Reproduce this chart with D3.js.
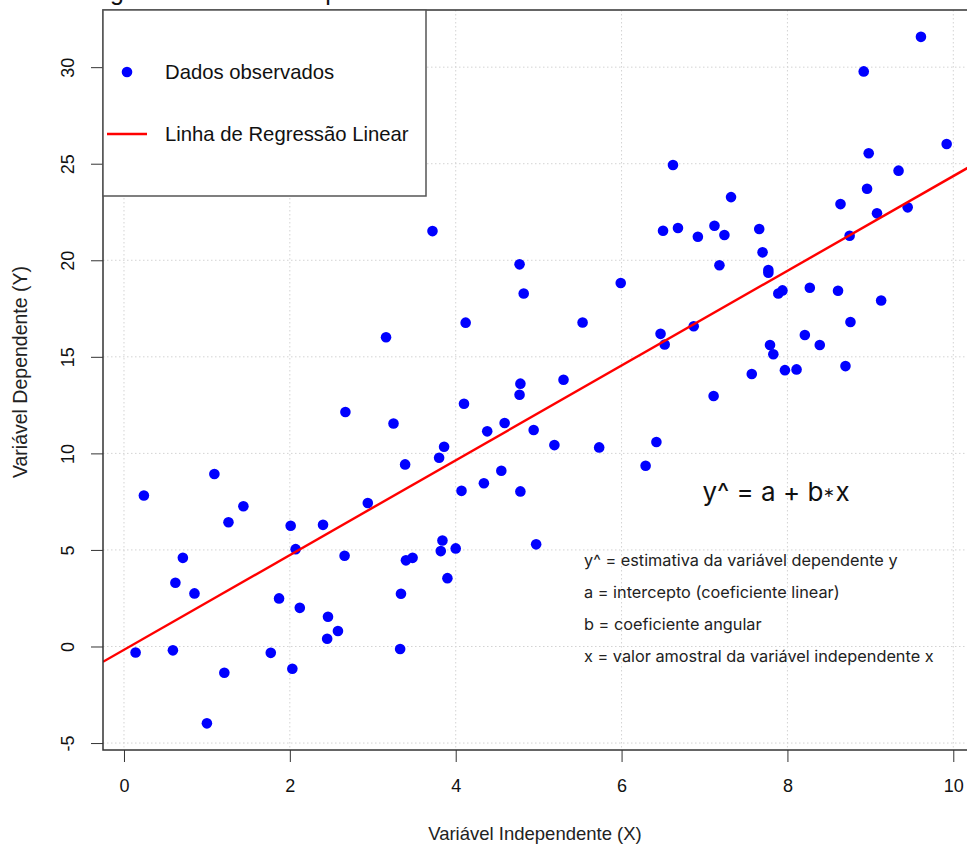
<!DOCTYPE html>
<html>
<head>
<meta charset="UTF-8">
<script src="https://d3js.org/d3.v7.min.js"></script>
<style>
  body { margin: 0; background: #fff; }
  svg { display: block; }
  .ax text { font-family: "Liberation Sans", Arial, sans-serif; }
</style>
</head>
<body>
<svg width="967" height="845"></svg>
<script>
const xObs = [3.72,
  9.61, 8.92, 9.92, 8.98, 6.62, 9.34, 7.32, 8.96, 8.64, 9.08, 9.45, 6.50, 6.68, 6.92, 7.12, 7.24, 7.66, 8.75,
  4.77, 4.82, 4.12, 3.16, 4.78, 4.77, 2.67, 3.25, 4.10, 4.38, 4.59, 4.94, 3.86, 3.80, 3.39, 4.07, 4.34, 4.55, 4.78, 1.09, 0.24,
  5.99, 5.53, 6.47, 6.52, 6.87, 7.18, 7.70, 7.77, 7.77, 7.89, 7.94, 8.27, 8.61, 9.13, 8.76, 8.21, 8.39, 7.79, 7.83, 7.57, 7.97, 8.11, 8.70, 7.11, 5.30, 5.19, 5.73, 6.42, 6.29,
  1.26, 1.44, 0.71, 0.62, 0.85, 0.14, 0.59, 1.21, 1.00, 2.01, 2.07, 2.40, 1.87, 2.12, 1.77, 2.03, 2.66, 2.94, 2.46, 2.58, 2.45, 3.34, 3.33, 3.40, 3.48, 3.84, 3.82, 4.00, 3.90, 4.97];
const yObs = [21.51,
  31.57, 29.78, 26.02, 25.54, 24.93, 24.64, 23.27, 23.70, 22.91, 22.43, 22.74, 21.53, 21.67, 21.22, 21.79, 21.31, 21.62, 21.27,
  19.79, 18.28, 16.77, 16.01, 13.61, 13.04, 12.14, 11.55, 12.57, 11.14, 11.57, 11.21, 10.34, 9.77, 9.43, 8.06, 8.45, 9.10, 8.03, 8.93, 7.82,
  18.82, 16.78, 16.19, 15.64, 16.58, 19.74, 20.41, 19.49, 19.35, 18.28, 18.44, 18.58, 18.42, 17.92, 16.80, 16.13, 15.61, 15.61, 15.13, 14.11, 14.31, 14.35, 14.52, 12.97, 13.81, 10.43, 10.31, 10.59, 9.36,
  6.43, 7.26, 4.59, 3.30, 2.75, -0.31, -0.20, -1.36, -3.98, 6.25, 5.04, 6.30, 2.49, 2.00, -0.33, -1.15, 4.70, 7.43, 1.54, 0.80, 0.40, 2.73, -0.13, 4.46, 4.59, 5.49, 4.94, 5.08, 3.54, 5.29];

// fitted line
const intercept = -0.17;
const slope = 2.453;

const xTicks = [0, 2, 4, 6, 8, 10];
const yTicks = [-5, 0, 5, 10, 15, 20, 25, 30];
const legendLabels = ["Dados observados", "Linha de Regressão Linear"];
const formula = "y^ = a + b∗x";
const notes = ["y^ = estimativa da variável dependente y",
  "a = intercepto (coeficiente linear)",
  "b = coeficiente angular",
  "x = valor amostral da variável independente x"];
const title = "Regressão Linear Simples";
const xTitle = "Variável Independente (X)";
const yTitle = "Variável Dependente (Y)";

const svg = d3.select("svg");
const pLeft = 103, pRight = 979, pTop = 10, pBottom = 750;

const x = d3.scaleLinear().domain([-0.253, 10.31]).range([pLeft, pRight]);
const y = d3.scaleLinear().domain([-5.36, 32.96]).range([pBottom, pTop]);

// title: only its lower edge is inside the picture
svg.append("text")
  .attr("x", 78).attr("y", 0)
  .attr("font-family", "Liberation Sans, Arial, sans-serif")
  .attr("font-size", 25).attr("fill", "#111")
  .text(title);

// dotted grid
const grid = svg.append("g").attr("stroke", "#d3d3d3").attr("stroke-dasharray", "1.5,2.5");
grid.selectAll(".gx").data(xTicks).enter().append("line")
  .attr("x1", d => x(d)).attr("x2", d => x(d)).attr("y1", pTop).attr("y2", pBottom);
grid.selectAll(".gy").data(yTicks).enter().append("line")
  .attr("x1", pLeft).attr("x2", pRight).attr("y1", d => y(d)).attr("y2", d => y(d));

// points
svg.append("g").selectAll("circle")
  .data(xObs.map((v, i) => [v, yObs[i]]))
  .enter().append("circle")
  .attr("cx", d => x(d[0])).attr("cy", d => y(d[1])).attr("r", 5.3)
  .attr("fill", "#0000ff");

// regression line, clipped to the plot box
svg.append("clipPath").attr("id", "plotclip").append("rect")
  .attr("x", pLeft).attr("y", pTop).attr("width", pRight - pLeft).attr("height", pBottom - pTop);
const xd = x.domain();
svg.append("line")
  .attr("clip-path", "url(#plotclip)")
  .attr("x1", x(xd[0])).attr("y1", y(intercept + slope * xd[0]))
  .attr("x2", x(xd[1])).attr("y2", y(intercept + slope * xd[1]))
  .attr("stroke", "#ff0000").attr("stroke-width", 2.4);

// axes
const gx = svg.append("g").attr("class", "ax")
  .attr("transform", "translate(0," + pBottom + ")")
  .call(d3.axisBottom(x).tickValues(xTicks).tickSize(12).tickPadding(17).tickSizeOuter(0));
gx.select(".domain").remove();
gx.selectAll(".tick line").attr("stroke", "#333");
gx.selectAll("text").attr("font-size", 18).attr("fill", "#111");

const gy = svg.append("g").attr("class", "ax")
  .attr("transform", "translate(" + pLeft + ",0)")
  .call(d3.axisLeft(y).tickValues(yTicks).tickSize(12).tickSizeOuter(0).tickFormat(d => String(d)));
gy.select(".domain").remove();
gy.selectAll(".tick line").attr("stroke", "#333");
gy.selectAll("text")
  .attr("font-size", 18).attr("fill", "#111")
  .attr("x", 0).attr("dy", null)
  .attr("text-anchor", "middle")
  .attr("transform", "translate(-35,0) rotate(-90)")
  .attr("y", 6);

// plot box
svg.append("rect")
  .attr("x", pLeft).attr("y", pTop).attr("width", pRight - pLeft).attr("height", pBottom - pTop)
  .attr("fill", "none").attr("stroke", "#333").attr("stroke-width", 1.5);

// axis titles
svg.append("text")
  .attr("x", 535).attr("y", 840)
  .attr("text-anchor", "middle")
  .attr("font-family", "Liberation Sans, Arial, sans-serif").attr("font-size", 18.5).attr("fill", "#222")
  .text(xTitle);
svg.append("text")
  .attr("transform", "translate(27,372) rotate(-90)")
  .attr("text-anchor", "middle")
  .attr("font-family", "Liberation Sans, Arial, sans-serif").attr("font-size", 19.5).attr("fill", "#222")
  .text(yTitle);

// legend
const lg = svg.append("g");
lg.append("rect")
  .attr("x", pLeft).attr("y", pTop).attr("width", 323).attr("height", 186)
  .attr("fill", "#fff").attr("stroke", "#555").attr("stroke-width", 1.5);
lg.append("circle").attr("cx", 127).attr("cy", 72).attr("r", 5.3).attr("fill", "#0000ff");
lg.append("line").attr("x1", 107).attr("x2", 147).attr("y1", 134).attr("y2", 134)
  .attr("stroke", "#ff0000").attr("stroke-width", 2.4);
lg.selectAll(".lt").data(legendLabels).enter().append("text")
  .attr("x", 165).attr("y", (d, i) => 79 + i * 62)
  .attr("font-family", "Liberation Sans, Arial, sans-serif").attr("font-size", 20.3).attr("fill", "#111")
  .text(d => d);

// formula note; the star is drawn small and centred like the original
const ft = svg.append("text")
  .attr("x", 776).attr("y", 501).attr("text-anchor", "middle")
  .attr("font-family", "Inter, 'Noto Sans', sans-serif").attr("font-size", 26).attr("fill", "#111");
formula.split("∗").forEach((part, i) => {
  if (i > 0) ft.append("tspan").attr("font-size", 14).attr("dy", -4).text("∗");
  ft.append("tspan").attr("dy", i > 0 ? 4 : null).text(part);
});
svg.selectAll(".note").data(notes).enter().append("text")
  .attr("x", 584).attr("y", (d, i) => 566 + i * 32)
  .attr("font-family", "Inter, 'Noto Sans', sans-serif").attr("font-size", 16.3).attr("fill", "#222")
  .text(d => d);
</script>
</body>
</html>
